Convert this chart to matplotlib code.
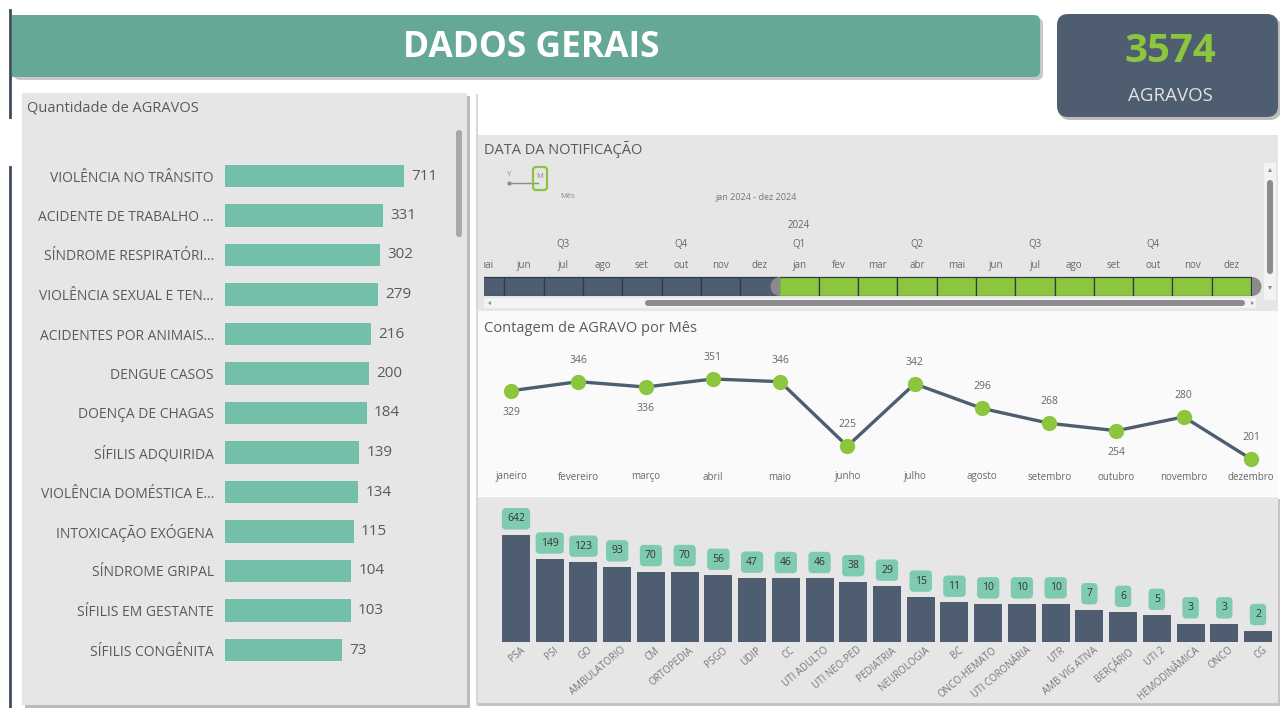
import numpy as np
import matplotlib
matplotlib.use("Agg")
import matplotlib.pyplot as plt
from matplotlib.patches import FancyBboxPatch, Rectangle, Wedge, Polygon

plt.rcParams['font.family'] = ['Open Sans', 'DejaVu Sans']

# ---------------- DATA ----------------
title_text = "DADOS GERAIS"
total_agravos = 3574
kpi_label = "AGRAVOS"

agravo_names = ["VIOLÊNCIA NO TRÂNSITO", "ACIDENTE DE TRABALHO ...", "SÍNDROME RESPIRATÓRI...",
                "VIOLÊNCIA SEXUAL E TEN...", "ACIDENTES POR ANIMAIS...", "DENGUE CASOS",
                "DOENÇA DE CHAGAS", "SÍFILIS ADQUIRIDA", "VIOLÊNCIA DOMÉSTICA E...",
                "INTOXICAÇÃO EXÓGENA", "SÍNDROME GRIPAL", "SÍFILIS EM GESTANTE", "SÍFILIS CONGÊNITA"]
agravo_values = [711, 331, 302, 279, 216, 200, 184, 139, 134, 115, 104, 103, 73]

timeline_months = ["mai", "jun", "jul", "ago", "set", "out", "nov", "dez",
                   "jan", "fev", "mar", "abr", "mai", "jun", "jul", "ago", "set", "out", "nov", "dez"]
timeline_selected = [False] * 8 + [True] * 12
quarter_labels = {2: "Q3", 5: "Q4", 8: "Q1", 11: "Q2", 14: "Q3", 17: "Q4"}
year_labels = {8: "2024"}

months = ["janeiro", "fevereiro", "março", "abril", "maio", "junho", "julho",
          "agosto", "setembro", "outubro", "novembro", "dezembro"]
month_counts = [329, 346, 336, 351, 346, 225, 342, 296, 268, 254, 280, 201]
label_above = [False, True, False, True, True, True, True, True, True, False, True, True]

sectors = ["PSA", "PSI", "GO", "AMBULATORIO", "CM", "ORTOPEDIA", "PSGO", "UDIP", "CC",
           "UTI ADULTO", "UTI NEO-PED", "PEDIATRIA", "NEUROLOGIA", "BC", "ONCO-HEMATO",
           "UTI CORONÁRIA", "UTR", "AMB VIG ATIVA", "BERÇÁRIO", "UTI 2", "HEMODINÂMICA",
           "ONCO", "CG"]
sector_values = [642, 149, 123, 93, 70, 70, 56, 47, 46, 46, 38, 29, 15, 11, 10, 10, 10,
                 7, 6, 5, 3, 3, 2]

# ---------------- STYLE ----------------
W, H = 1280, 708
TEAL = "#66A896"
TEAL_BAR = "#73BFA9"
TEAL_LBL = "#7ECBB0"
SLATE = "#4E5D6F"
GREEN = "#8CC63F"
PANEL = "#E6E6E6"
TXT = "#5A5A5A"

fig = plt.figure(figsize=(W / 100, H / 100), dpi=100)
fig.patch.set_facecolor("white")

bg = fig.add_axes([0, 0, 1, 1])
bg.set_xlim(0, W)
bg.set_ylim(H, 0)
bg.axis("off")
bg.set_zorder(0)


def pax(x0, y0, x1, y1):
    a = fig.add_axes([x0 / W, 1 - y1 / H, (x1 - x0) / W, (y1 - y0) / H])
    a.set_facecolor("none")
    return a


def rect(ax, x0, y0, x1, y1, color, z=1, **kw):
    ax.add_patch(Rectangle((x0, y0), x1 - x0, y1 - y0, facecolor=color, edgecolor="none", zorder=z, **kw))


def rrect(ax, x0, y0, x1, y1, color, r, z=1, **kw):
    ax.add_patch(FancyBboxPatch((x0 + r, y0 + r), x1 - x0 - 2 * r, y1 - y0 - 2 * r,
                                boxstyle=f"round,pad={r}", facecolor=color,
                                edgecolor="none", zorder=z, **kw))


# left edge line
bg.plot([10, 10], [10, 117], color="#3F4C5E", lw=2, zorder=2)
bg.plot([10, 10], [167, 708], color="#3F4C5E", lw=2, zorder=2)

# title banner
rrect(bg, 14, 18, 1043, 80, "#C8C8C8", 6, z=1)
rrect(bg, 12, 15, 1040, 77, TEAL, 6, z=2)
rect(bg, 12, 15, 24, 77, TEAL, z=2)
bg.text(531, 48, title_text, color="white", fontsize=25.5, fontweight="bold",
        ha="center", va="center", zorder=3)

# KPI card
rrect(bg, 1059, 17, 1281, 120, "#BDBDBD", 11, z=1)
rrect(bg, 1057, 14, 1278, 117, "#4F5D70", 11, z=2)
bg.text(1170, 52, str(total_agravos), color=GREEN, fontsize=29, fontweight="bold",
        ha="center", va="center", zorder=3)
bg.text(1170, 96, kpi_label, color="#E2E2E2", fontsize=13.5, ha="center", va="center", zorder=3)

# left panel
rect(bg, 25, 96, 470, 708, "#BBBBBB", z=1)
rect(bg, 22, 93, 467, 705, PANEL, z=2)
bg.text(27, 108, "Quantidade de AGRAVOS", color=TXT, fontsize=10.5, ha="left", va="center", zorder=3)
rrect(bg, 456, 130, 462, 237, "#A8A8A8", 3, z=3)

# right column border
bg.plot([477, 477], [95, 705], color="#D0D0D0", lw=1.2, zorder=2)

# slicer panel
rect(bg, 478, 135, 1278, 311, PANEL, z=2)
bg.text(484, 149, "DATA DA NOTIFICAÇÃO", color=TXT, fontsize=10.5, ha="left", va="center", zorder=3)
# vertical scroll
rect(bg, 1264, 163, 1276, 300, "#F3F3F3", z=3)
rrect(bg, 1267, 180, 1273, 274, "#8C8C8C", 3, z=4)
bg.add_patch(Polygon([[1268, 172], [1272, 172], [1270, 168]], closed=True, fc="#8C8C8C", ec="none", zorder=4))
bg.add_patch(Polygon([[1268, 286], [1272, 286], [1270, 290]], closed=True, fc="#8C8C8C", ec="none", zorder=4))
# horizontal scroll
rect(bg, 484, 298, 1256, 308, "#F3F3F3", z=3)
rrect(bg, 645, 300, 1245, 306, "#8C8C8C", 3, z=4)
bg.add_patch(Polygon([[491, 301], [491, 305], [488, 303]], closed=True, fc="#8C8C8C", ec="none", zorder=4))
bg.add_patch(Polygon([[1251, 301], [1251, 305], [1254, 303]], closed=True, fc="#8C8C8C", ec="none", zorder=4))

# Y / M toggle
bg.plot([509, 538], [183, 183], color="#8A8A8A", lw=1, zorder=4)
bg.plot([509], [183], marker="o", ms=2, color="#8A8A8A", zorder=4)
bg.text(509, 175, "Y", fontsize=5.5, color="#8A8A8A", ha="center", va="center", zorder=4)
bg.add_patch(FancyBboxPatch((536, 170), 8, 17, boxstyle="round,pad=3", fc="none",
                            ec=GREEN, lw=1.6, zorder=5))
bg.text(540, 176, "M", fontsize=5.5, color="#8A8A8A", ha="center", va="center", zorder=5)
bg.text(568, 196, "Mês", fontsize=5.5, color="#8A8A8A", ha="center", va="center", zorder=4)
bg.text(756, 198, "jan 2024 - dez 2024", fontsize=6.5, color="#777777", ha="center", va="center", zorder=4)

# line chart panel (white)
rect(bg, 478, 311, 1278, 496, "#FAFAFA", z=2)
bg.text(484, 328, "Contagem de AGRAVO por Mês", color=TXT, fontsize=10.5, ha="left", va="center", zorder=3)

# bottom bar panel
rect(bg, 478, 499, 1280, 706, "#C4C4C4", z=1)
rect(bg, 478, 497, 1278, 703, PANEL, z=2)

# ---------------- LEFT BAR CHART ----------------
PX_PER_DEC = 62.7
axL = pax(225, 156.25, 450, 669.75)
yy = np.arange(len(agravo_names))
axL.barh(yy, agravo_values, height=0.56, color=TEAL_BAR)
axL.set_xscale("log")
axL.set_xlim(1, 10 ** (225 / PX_PER_DEC))
axL.set_ylim(len(agravo_names) - 0.5, -0.5)
axL.set_yticks(yy)
axL.set_yticklabels(agravo_names, fontsize=10, color=TXT)
axL.tick_params(axis="y", length=0, pad=8)
axL.set_xticks([])
axL.xaxis.set_minor_locator(matplotlib.ticker.NullLocator())
for s in axL.spines.values():
    s.set_visible(False)
for i, v in enumerate(agravo_values):
    axL.annotate(str(v), (v, i), xytext=(5, 0), textcoords="offset points",
                 ha="left", va="center", fontsize=11, color=TXT)

# ---------------- TIMELINE ----------------
CELL = 39.3
X0 = 465.0
axT = pax(484, 215, 1252, 296)
axT.set_xlim((484 - X0) / CELL, (1252 - X0) / CELL)
axT.set_ylim(81, 0)
axT.axis("off")
for i, (m, sel) in enumerate(zip(timeline_months, timeline_selected)):
    axT.add_patch(Rectangle((i, 62), 1, 19, facecolor=GREEN if sel else SLATE,
                            edgecolor="#2E3A48", lw=0.9))
    axT.text(i + 0.5, 51, m, fontsize=7, color="#666666", ha="center", va="center", clip_on=True)
for i, q in quarter_labels.items():
    axT.text(i + 0.5, 30, q, fontsize=7, color="#666666", ha="center", va="center", clip_on=True)
for i, yl in year_labels.items():
    axT.text(i + 0.5, 11, yl, fontsize=7, color="#666666", ha="center", va="center", clip_on=True)

# ---------------- LINE CHART ----------------
x_step = 740.0 / 11
PX_PER_UNIT = 0.5333
axM = pax(478, 340, 1278, 490)
axM.set_xlim(-(511 - 478) / x_step, 11 + (1278 - 1251) / x_step)
axM.set_ylim(351 - (490 - 379) / PX_PER_UNIT, 351 + (379 - 340) / PX_PER_UNIT)
axM.axis("off")
xm = np.arange(len(months))
axM.plot(xm, month_counts, color=SLATE, lw=2.4, zorder=2)
axM.plot(xm, month_counts, ls="none", marker="o", ms=10, mfc=GREEN, mec=GREEN, zorder=3)
for i, (v, up) in enumerate(zip(month_counts, label_above)):
    axM.annotate(str(v), (i, v), xytext=(0, 15.5 if up else -15.5), textcoords="offset points",
                 ha="center", va="center", fontsize=7.5, color="#666666")
for i, m in enumerate(months):
    axM.text(i, 351 - (477 - 379) / PX_PER_UNIT, m, fontsize=7, color="#666666",
             ha="center", va="center")

# ---------------- BOTTOM BAR CHART ----------------
b_step = (1258 - 516) / 22
axB = pax(478, 505, 1278, 642)
axB.set_xlim(-(516 - 478) / b_step, 22 + (1278 - 1258) / b_step)
axB.set_yscale("log")
axB.set_ylim(1, 10 ** (137 / 38.2))
xb = np.arange(len(sectors))
axB.bar(xb, sector_values, width=0.83, color=SLATE)
for s in axB.spines.values():
    s.set_visible(False)
axB.set_yticks([])
axB.yaxis.set_minor_locator(matplotlib.ticker.NullLocator())
axB.set_xticks(xb + 0.12)
axB.set_xticklabels(sectors, rotation=40, ha="right", rotation_mode="anchor",
                    fontsize=7, color="#777777")
axB.tick_params(axis="x", length=0, pad=2)
for i, v in enumerate(sector_values):
    axB.annotate(str(v), (i, v), xytext=(0, 11.5), textcoords="offset points",
                 ha="center", va="center", fontsize=7.5, color="#333333",
                 bbox=dict(boxstyle="round,pad=0.5,rounding_size=0.4", fc=TEAL_LBL, ec="none"))

# ---------------- OVERLAY (slider handles) ----------------
ov = fig.add_axes([0, 0, 1, 1])
ov.set_xlim(0, W)
ov.set_ylim(H, 0)
ov.axis("off")
ov.set_facecolor("none")
ov.add_patch(Wedge((780, 286.5), 9.5, 90, 270, fc="#8A8A8A", ec="none"))
ov.add_patch(Wedge((1252, 286.5), 9.5, -90, 90, fc="#8A8A8A", ec="none"))

fig.savefig("out.png", dpi=100)
